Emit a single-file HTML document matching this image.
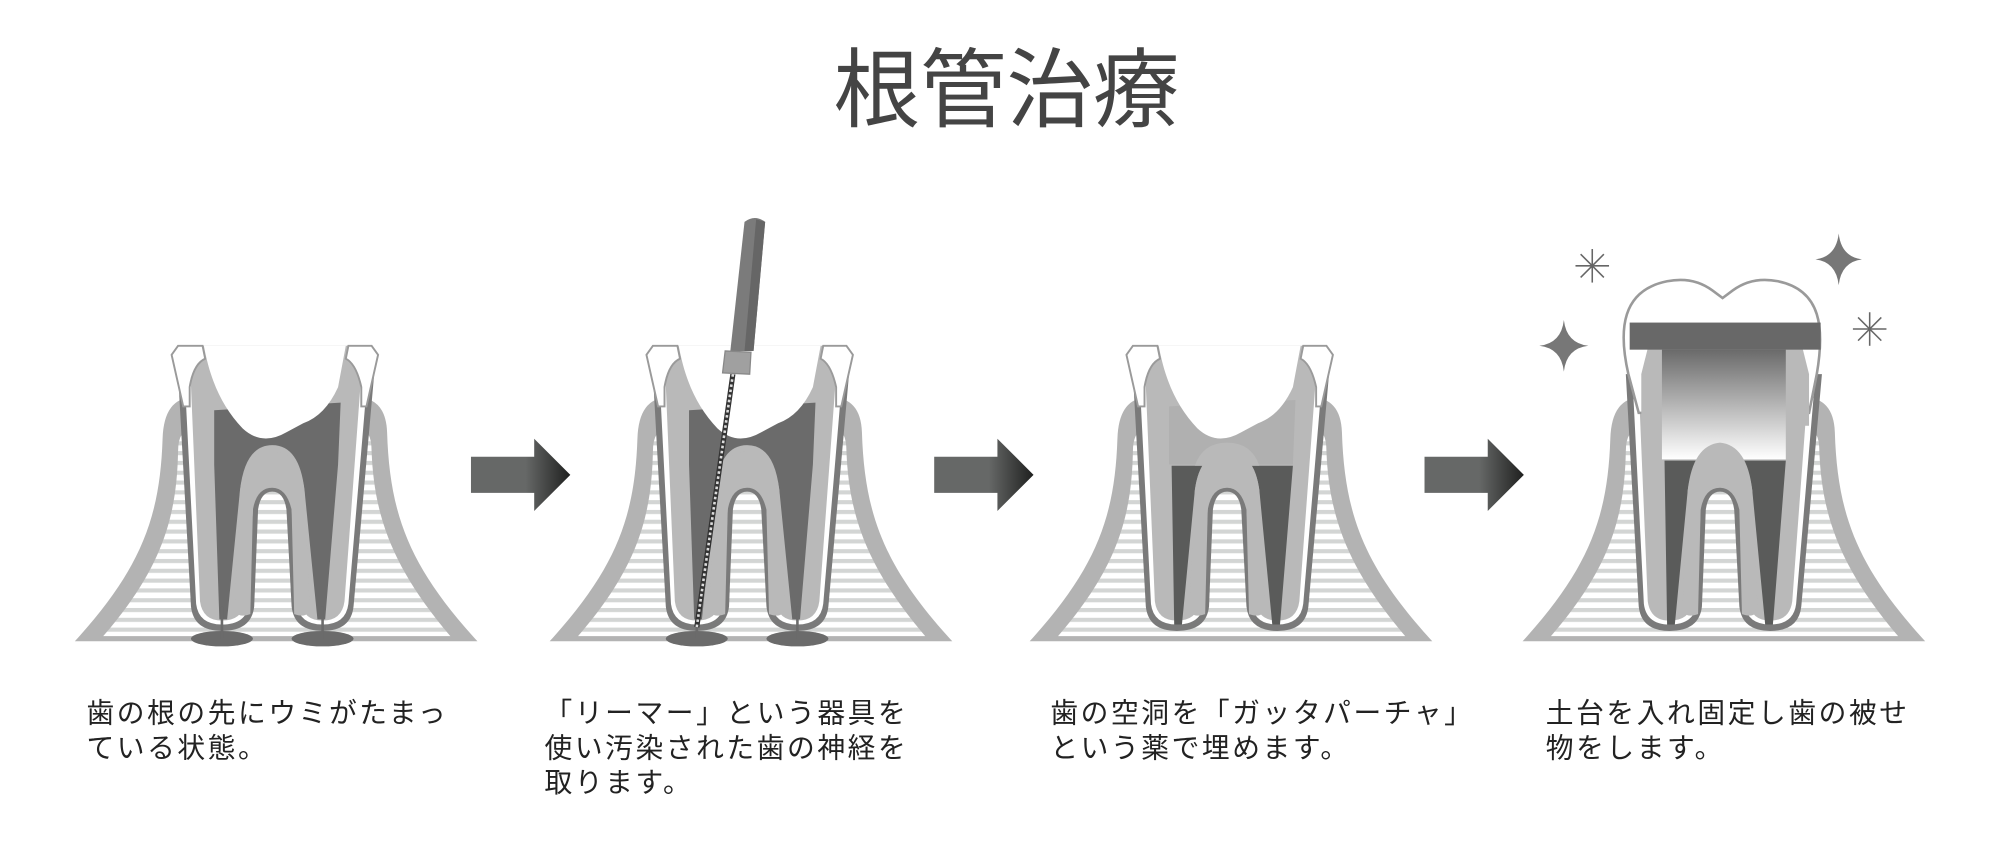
<!DOCTYPE html>
<html><head><meta charset="utf-8"><style>
html,body{margin:0;padding:0;background:#fff;width:2000px;height:841px;overflow:hidden}
svg{display:block}
.t{font-family:"Liberation Sans","Noto Sans CJK JP",sans-serif;}
</style></head><body>
<svg width="2000" height="841" viewBox="0 0 1550 651.8" preserveAspectRatio="none" xmlns="http://www.w3.org/2000/svg">
<defs>
<pattern id="st" patternUnits="userSpaceOnUse" width="10" height="7.6"><rect width="10" height="7.6" fill="#fff"/><rect y="0" width="10" height="3.2" fill="#d3d5d4"/></pattern>
<linearGradient id="ag" x1="0" x2="1" y1="0" y2="0"><stop offset="0" stop-color="#666867"/><stop offset="0.55" stop-color="#666867"/><stop offset="1" stop-color="#1f201f"/></linearGradient>
<linearGradient id="cg" x1="0" x2="0" y1="0" y2="1"><stop offset="0" stop-color="#6a6a6a"/><stop offset="1" stop-color="#ffffff"/></linearGradient>
<g id="bone">
<path d="M58,497 C110,440 124,400 126,340 Q127,308 150,308 L276,308 Q299,308 300,335 C302,400 318,440 370,497 Z" fill="#b3b3b3"/>
<path d="M80,493 C126,440 137,400 138,350 Q138,332 150,332 L278,332 Q288,332 288,350 C290,400 304,440 349,493 Z" fill="url(#st)"/>
</g>
<g id="roots">
<path d="M138,290 L148,470 Q150,489 172,489 Q195,489 197,470 L200,395 Q202,381 211,381 Q220,381 222,395 L226,470 Q228,489 250,489 Q272,489 274,470 L290,290 Z" fill="#7a7a7a"/>
<path d="M143,290 L152,468 Q154,484 172,484 Q191,484 193,468 L196,393 Q199,376 211,376 Q223,376 226,393 L230,468 Q232,484 250,484 Q268,484 270,468 L285,290 Z" fill="#fff"/>
<path d="M147,275 Q150,268 158,268 L270,268 Q279,268 281,280 L280,290 L267,466 Q265,481 250,481 Q235,481 233,466 L229,393 Q225,372 211,372 Q197,372 193,393 L190,466 Q188,481 172,481 Q157,481 155,466 Z" fill="#b9b9b9"/>
</g>
<g id="tips">
<path d="M133,275 L138,268 L157,268 L159,278 Q150,282 147,300 L147,315 L142,315 Z" fill="#fff" stroke="#9a9a9a" stroke-width="1.5"/>
<path d="M293,275 L288,268 L270,268 L268,278 Q276,282 280,300 L280,315 L284,315 Z" fill="#fff" stroke="#9a9a9a" stroke-width="1.5"/>
</g>
<path id="cav" d="M158,268 C163,295 172,315 188,332 Q203,346 222,335 L235,328 Q252,322 262,300 L268,268 Z" fill="#fff"/>
</defs>

<text class="t" x="780" y="93" font-size="67" fill="#444" text-anchor="middle">根管治療</text>

<!-- Panel 1 -->
<g>
<use href="#bone"/>
<use href="#roots"/>
<path d="M166,318 L264,312 L262,360 L252,480 L246,480 L236,380 Q232,345 211,345 Q190,345 186,380 L176,480 L170,480 L166,360 Z" fill="#6b6b6b"/>
<path d="M186,380 Q190,350 211,350 Q232,350 236,380 L240,470 Q240,480 228,476 L226,395 Q222,378 211,378 Q199,378 196,395 L194,476 Q182,480 182,470 Z" fill="#b9b9b9"/>
<use href="#cav"/>
<use href="#tips"/>
<ellipse cx="172" cy="495" rx="24" ry="6" fill="#6b6b6b"/><ellipse cx="250" cy="495" rx="24" ry="6" fill="#6b6b6b"/>
<rect x="171" y="470" width="2" height="25" fill="#6b6b6b"/><rect x="249" y="470" width="2" height="25" fill="#6b6b6b"/>
</g>

<!-- Arrows -->
<g fill="url(#ag)">
<path d="M365,354 L414,354 L414,340 L442,368 L414,396 L414,382 L365,382 Z"/>
<path d="M724,354 L773,354 L773,340 L801,368 L773,396 L773,382 L724,382 Z"/>
<path d="M1104,354 L1153,354 L1153,340 L1181,368 L1153,396 L1153,382 L1104,382 Z"/>
</g>

<!-- Panel 2 -->
<g transform="translate(368,0)">
<use href="#bone"/>
<use href="#roots"/>
<path d="M166,318 L264,312 L262,360 L252,480 L246,480 L236,380 Q232,345 211,345 Q190,345 186,380 L176,480 L170,480 L166,360 Z" fill="#6b6b6b"/>
<path d="M186,380 Q190,350 211,350 Q232,350 236,380 L240,470 Q240,480 228,476 L226,395 Q222,378 211,378 Q199,378 196,395 L194,476 Q182,480 182,470 Z" fill="#b9b9b9"/>
<use href="#cav"/>
<use href="#tips"/>
<ellipse cx="172" cy="495" rx="24" ry="6" fill="#6b6b6b"/><ellipse cx="250" cy="495" rx="24" ry="6" fill="#6b6b6b"/>
<rect x="171" y="470" width="2" height="25" fill="#6b6b6b"/><rect x="249" y="470" width="2" height="25" fill="#6b6b6b"/>
<line x1="200" y1="290" x2="172" y2="486" stroke="#333" stroke-width="4"/>
<line x1="200" y1="290" x2="172" y2="486" stroke="#ddd" stroke-width="2" stroke-dasharray="2 2"/>
<path d="M209,172 Q217,166 225,172 L216,272 L198,272 Z" fill="#7b7b7b"/>
<path d="M218,170 L225,172 L216,272 L209,272 Z" fill="#666"/>
<path d="M194,272 L214,273 L213,290 L192,289 Z" fill="#a0a0a0" stroke="#888" stroke-width="1"/>
</g>

<!-- Panel 3 -->
<g transform="translate(740,0)">
<use href="#bone"/>
<use href="#roots"/>
<path d="M166,315 L264,310 L262,360 L166,360 Z" fill="#b0b0b0"/>
<path d="M168,361 L262,361 L252,484 L246,484 L236,380 Q232,350 211,350 Q190,350 186,380 L176,484 L170,484 Z" fill="#5a5b5a"/>
<path d="M186,380 Q190,350 211,350 Q232,350 236,380 L240,470 Q240,480 228,476 L226,395 Q222,378 211,378 Q199,378 196,395 L194,476 Q182,480 182,470 Z" fill="#b9b9b9"/>
<path d="M186,361 Q192,343 211,343 Q230,343 236,361 Z" fill="#b9b9b9"/>
<use href="#cav"/>
<use href="#tips"/>
</g>

<!-- Panel 4 -->
<g transform="translate(1122,0)">
<use href="#bone"/>
<use href="#roots"/>
<path d="M140,290 C132,255 135,225 170,218 Q190,214 205,225 L213,231 L221,225 Q236,214 256,218 C290,225 292,255 286,290 L280,320 L148,320 Z" fill="#fff" stroke="#9a9a9a" stroke-width="2"/>
<path d="M150,290 L155,270 L275,270 L280,290 L280,330 L150,330 Z" fill="#b9b9b9"/>
<rect x="141" y="250" width="148" height="21" fill="#686868"/>
<path d="M166,271 L262,271 L262,356 L166,356 Z" fill="url(#cg)"/>
<path d="M168,357 L262,357 L252,484 L246,484 L236,380 Q232,350 211,350 Q190,350 186,380 L176,484 L170,484 Z" fill="#5a5b5a"/>
<path d="M186,380 Q190,345 211,343 Q232,345 236,380 L240,470 Q240,480 228,476 L226,395 Q222,378 211,378 Q199,378 196,395 L194,476 Q182,480 182,470 Z" fill="#b9b9b9"/>
</g>
<!-- sparkles -->
<g fill="#777">
<path d="M1212,248 Q1214,266 1231,268 Q1214,270 1212,288 Q1210,270 1193,268 Q1210,266 1212,248 Z"/>
<path d="M1425,181 Q1427,199 1443,201 Q1427,203 1425,221 Q1423,203 1407,201 Q1423,199 1425,181 Z"/>
</g>
<g stroke="#666" stroke-width="1.2">
<line x1="1234" y1="193" x2="1234" y2="219"/><line x1="1221" y1="206" x2="1247" y2="206"/><line x1="1225" y1="197" x2="1243" y2="215"/><line x1="1243" y1="197" x2="1225" y2="215"/>
<line x1="1449" y1="242" x2="1449" y2="268"/><line x1="1436" y1="255" x2="1462" y2="255"/><line x1="1440" y1="246" x2="1458" y2="264"/><line x1="1458" y1="246" x2="1440" y2="264"/>
</g>

<g class="t" font-size="21.5" fill="#222" letter-spacing="2">
<text x="67" y="560">歯の根の先にウミがたまっ</text>
<text x="67" y="587">ている状態。</text>
<text x="422" y="560">「リーマー」という器具を</text>
<text x="422" y="587">使い汚染された歯の神経を</text>
<text x="422" y="614">取ります。</text>
<text x="814" y="560">歯の空洞を「ガッタパーチャ」</text>
<text x="814" y="587">という薬で埋めます。</text>
<text x="1198" y="560">土台を入れ固定し歯の被せ</text>
<text x="1198" y="587">物をします。</text>
</g>
</svg>
</body></html>
